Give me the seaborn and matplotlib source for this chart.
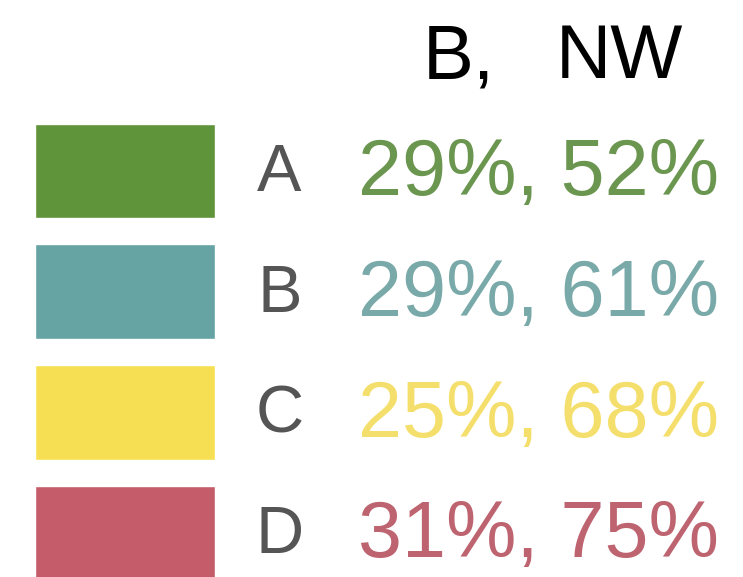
import matplotlib
matplotlib.use('Agg')
import matplotlib.pyplot as plt
import seaborn as sns
import pandas as pd

# legend rows
categories = ['A', 'B', 'C', 'D']
b_share = [29, 29, 25, 31]
nw_share = [52, 61, 68, 75]
swatch_colors = ['#5f943a', '#66a3a3', '#f7df53', '#c45c6a']
text_colors = ['#6b9650', '#79a9a8', '#f5df6c', '#bd6470']

sns.set_theme(style='white')
plt.rcParams['font.family'] = ['Liberation Sans', 'DejaVu Sans']

fig = plt.figure(figsize=(7.43, 5.77), dpi=100)
ax = fig.add_axes([0, 0, 1, 1])

df = pd.DataFrame({'cat': categories, 'swatch': 1.0})
sns.barplot(data=df, x='swatch', y='cat', hue='cat', palette=swatch_colors,
            saturation=1, width=0.787, legend=False, ax=ax)


# pixel helpers: swatch is 180 px wide starting at x=35, rows are ~120.7 px apart
def px_x(p):
    return (p - 35) / 180


def px_y(p):
    return (p - 171) / 120.7


ax.set_xlim(px_x(0), px_x(743))
ax.set_ylim(px_y(577), px_y(0))
ax.axis('off')

ax.text(px_x(423), px_y(78), 'B,', fontsize=55, color='black', va='baseline')
ax.text(px_x(556), px_y(78), 'NW', fontsize=55, color='black', va='baseline')

for i, cat in enumerate(categories):
    ax.text(px_x(279.5), i + 0.165, cat, fontsize=48, color='#555555',
            ha='center', va='baseline')
    ax.text(px_x(358), i + 0.2, f'{b_share[i]}%, {nw_share[i]}%', fontsize=57,
            color=text_colors[i], ha='left', va='baseline')

fig.savefig('out.png', dpi=100)
